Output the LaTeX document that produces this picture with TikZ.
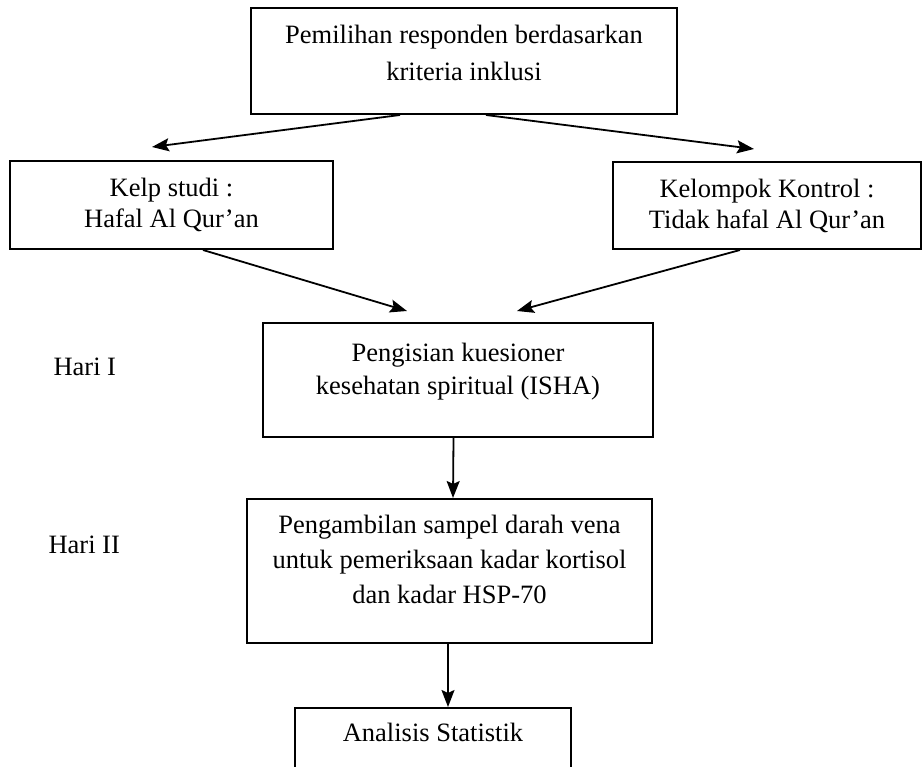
\documentclass[tikz,border=0pt]{standalone}
\usepackage{fontspec}
\setmainfont{Liberation Serif}
\usetikzlibrary{arrows.meta, positioning}
\tikzset{
  box/.style={rectangle, draw=black, line width=2pt, align=center, inner sep=0pt, font=\fontsize{26.5}{31}\selectfont},
  lbl/.style={anchor=base west, font=\fontsize{26.5}{31}\selectfont},
  arrow/.style={-{Stealth[length=17pt, width=13pt, inset=3pt]}, line width=1.8pt}
}

\begin{document}
\begin{tikzpicture}[x=1pt, y=-1pt]
  \useasboundingbox (0,0) rectangle (923,767);
  \clip (0,0) rectangle (923,767);
  \node[box, minimum width=426pt, minimum height=106pt, text depth=17pt, font=\fontsize{26.5}{37}\selectfont] (sel) at (464,61) {Pemilihan responden berdasarkan\\kriteria inklusi};
  \node[box, minimum width=323pt, minimum height=88pt] (kelp) at (171.5,205) {Kelp studi :\\Hafal Al Qur'an};
  \node[box, minimum width=308pt, minimum height=87pt] (kontrol) at (767,205.5) {Kelompok Kontrol :\\Tidak hafal Al Qur'an};
  \node[box, minimum width=390pt, minimum height=114pt, text depth=23pt, font=\fontsize{26.5}{33}\selectfont] (quest) at (458,380) {Pengisian kuesioner\\kesehatan spiritual (ISHA)};
  \node[box, minimum width=405pt, minimum height=144pt, text depth=24pt, font=\fontsize{26.5}{35}\selectfont] (blood) at (449.5,571) {Pengambilan sampel darah vena\\untuk pemeriksaan kadar kortisol\\dan kadar HSP-70};
  \node[box, anchor=north, minimum width=276pt, text height=33pt, text depth=40pt] (stat) at (433,707) {Analisis Statistik};
  \node[lbl] (hari1) at (50,375) {Hari I};
  \node[lbl] (hari2) at (45,553) {Hari II};

  \draw[arrow] ([xshift=-64pt]sel.south) -- ([xshift=-19.5pt, yshift=13pt]kelp.north);
  \draw[arrow] ([xshift=22pt]sel.south) -- ([xshift=-13pt, yshift=12pt]kontrol.north);
  \draw[arrow] ([xshift=31.5pt]kelp.south) -- ([xshift=-51pt, yshift=11pt]quest.north);
  \draw[arrow] ([xshift=-27pt]kontrol.south) -- ([xshift=59pt, yshift=11pt]quest.north);
  \draw[arrow] ([xshift=-4.5pt]quest.south) -- ([xshift=3.5pt]blood.north);
  \draw[arrow] ([xshift=-1.5pt]blood.south) -- ([xshift=15pt]stat.north);
\end{tikzpicture}
\end{document}
